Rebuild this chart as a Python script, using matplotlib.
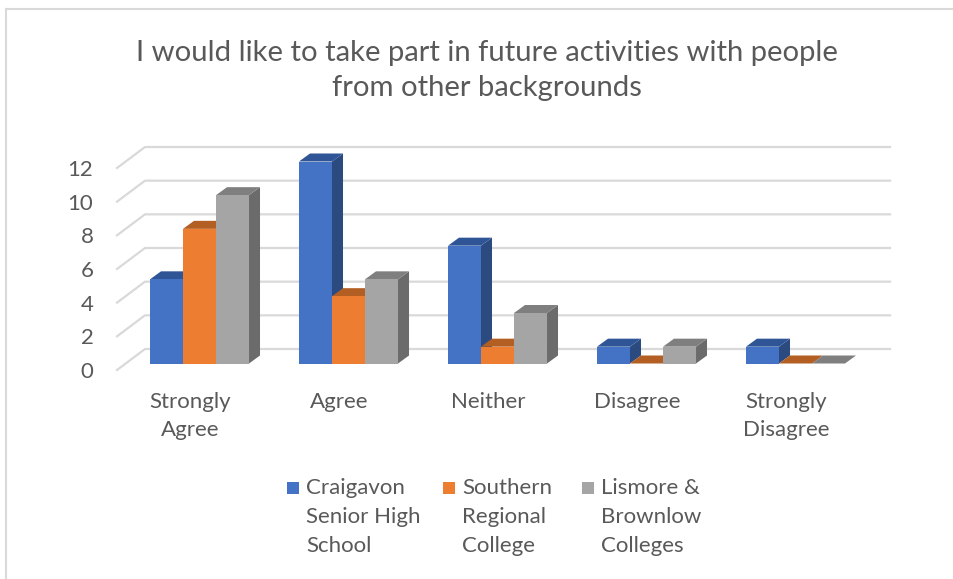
import numpy as np
import matplotlib
matplotlib.use("Agg")
import matplotlib.pyplot as plt
from matplotlib.patches import Polygon, Rectangle
from matplotlib.lines import Line2D
from matplotlib.transforms import IdentityTransform, ScaledTranslation

# ---------------- data ----------------
title = "I would like to take part in future activities with people\nfrom other backgrounds"
categories = ["Strongly\nAgree", "Agree", "Neither", "Disagree", "Strongly\nDisagree"]
series_names = ["Craigavon\nSenior High\nSchool", "Southern\nRegional\nCollege", "Lismore &\nBrownlow\nColleges"]
craigavon = [5, 12, 7, 1, 1]
southern = [8, 4, 1, 0, 0]
lismore = [10, 5, 3, 1, 0]
y_ticks = [0, 2, 4, 6, 8, 10, 12]

series_values = [craigavon, southern, lismore]
front_colors = ["#4472C4", "#ED7D31", "#A5A5A5"]
top_colors = ["#2F5597", "#B35E22", "#7F7F7F"]
side_colors = ["#2A4A80", "#A8561C", "#6B6B6B"]

FONT = ["Lato", "DejaVu Sans"]
plt.rcParams["font.family"] = FONT
TXT = "#595959"
GRID = "#D9D9D9"

W, H, DPI = 954, 579, 100
fig = plt.figure(figsize=(W / DPI, H / DPI), dpi=DPI)
fig.patch.set_facecolor("white")

# axes = front floor plane
ax_l, ax_r, ax_b, ax_t = 117, 862, 370, 168  # pixels
ax = fig.add_axes([ax_l / W, (H - ax_b) / H, (ax_r - ax_l) / W, (ax_b - ax_t) / H])
ax.set_xlim(-0.49, 4.51)
ax.set_ylim(0, 12)
ax.set_facecolor("none")
for s in ax.spines.values():
    s.set_visible(False)

# 3D offsets (pixels)
BAR_OFF = (9.5, 6.5)     # bar front plane relative to floor front
DEPTH = (11.0, 8.0)      # bar depth
WALL = (28.0, 21.0)      # back wall relative to floor front

ident = IdentityTransform()

def P(x, v, off=(0, 0)):
    px, py = ax.transData.transform((x, v))
    return (px + off[0], py + off[1])

# gridlines: diagonal on left + back wall line
x0, x1 = ax.get_xlim()
for v in y_ticks:
    a = P(x0, v)
    b = P(x0, v, WALL)
    c = P(x1, v, WALL)
    ax.add_line(Line2D([a[0], b[0], c[0]], [a[1], b[1], c[1]], transform=ident,
                       color=GRID, lw=1.6, zorder=0, clip_on=False))

# bars
bw = 0.2215
xs = np.arange(len(categories))
bar_trans = ax.transData + ScaledTranslation(BAR_OFF[0] / DPI, BAR_OFF[1] / DPI, fig.dpi_scale_trans)

for j, vals in enumerate(series_values):
    lefts = xs - 1.5 * bw + j * bw
    zb = 2 + 3 * j
    bars = ax.bar(lefts, vals, width=bw, align="edge", color=front_colors[j], linewidth=0,
                  transform=bar_trans, zorder=zb + 2)
    for b in bars:
        b.set_clip_on(False)
    for xl, v in zip(lefts, vals):
        fl = (BAR_OFF[0], BAR_OFF[1])
        bk = (BAR_OFF[0] + DEPTH[0], BAR_OFF[1] + DEPTH[1])
        if v > 0:
            side = [P(xl + bw, 0, fl), P(xl + bw, 0, bk), P(xl + bw, v, bk), P(xl + bw, v, fl)]
            ax.add_patch(Polygon(side, closed=True, transform=ident, facecolor=side_colors[j],
                                 edgecolor="none", zorder=zb, clip_on=False))
        top = [P(xl, v, fl), P(xl + bw, v, fl), P(xl + bw, v, bk), P(xl, v, bk)]
        ax.add_patch(Polygon(top, closed=True, transform=ident, facecolor=top_colors[j],
                             edgecolor="none", zorder=zb + 1, clip_on=False))

# ticks
ax.set_yticks(y_ticks)
ax.set_yticklabels([str(t) for t in y_ticks])
ax.tick_params(axis="y", length=0, pad=17, labelsize=16, labelcolor=TXT)
ax.set_xticks(xs)
ax.set_xticklabels(categories, linespacing=1.55)
ax.tick_params(axis="x", length=0, pad=15.5, labelsize=16, labelcolor=TXT)

# title
fig.text(487 / W, 1 - 70.5 / H, title, ha="center", va="center", fontsize=21.1,
         color=TXT, linespacing=1.47)

# legend (manual)
leg_sq_x = [287, 443, 582]
for j, name in enumerate(series_names):
    sx = leg_sq_x[j]
    fig.patches.append(Rectangle((sx / W, 1 - 494 / H), 12 / W, 12 / H,
                                 transform=fig.transFigure, facecolor=front_colors[j],
                                 edgecolor="none"))
    fig.text((sx + 19) / W, 1 - 478 / H, name, ha="left", va="top", fontsize=16,
             color=TXT, linespacing=1.55)

# chart border (top and left visible)
fig.add_artist(Line2D([6.5 / W, 1], [1 - 8.5 / H, 1 - 8.5 / H], transform=fig.transFigure,
                      color="#D9D9D9", lw=1.5))
fig.add_artist(Line2D([6.5 / W, 6.5 / W], [1 - 8.5 / H, 0], transform=fig.transFigure,
                      color="#D9D9D9", lw=1.5))

fig.savefig("out.png", dpi=DPI)
